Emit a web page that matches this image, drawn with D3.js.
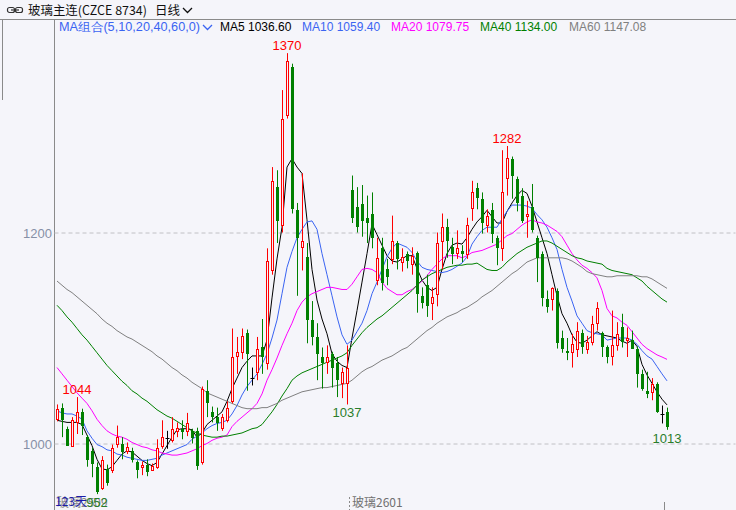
<!DOCTYPE html>
<html><head><meta charset="utf-8">
<script src="https://cdn.jsdelivr.net/npm/d3@7"></script>
<style>html,body{margin:0;padding:0;background:#f5f5fa;}svg{display:block}</style>
</head><body><svg id="c" width="736" height="510"></svg>
<script>
// ---------- data ----------
const opens = [1023,1034,1014,998,1020,1030,1006,993,978,958,
976,975,1000,1000,993,993,982,978,980,975,
978,998,1005,1003,1012,1014,1012,1012,1012,982,
1050,1030,1025,1015,1022,1040,1083,1087,1105,1062,
1068,1091,1076,1164,1243,1207,1311,1357,1221,1186,
1177,1117,1101,1082,1077,1085,1076,1057,1057,1240,
1224,1227,1214,1218,1155,1185,1165,1175,1190,1172,
1180,1170,1181,1140,1150,1133,1142,1192,1205,1186,
1181,1182,1180,1223,1242,1232,1207,1221,1195,1185,
1252,1270,1251,1235,1216,1224,1195,1180,1137,1137,
1145,1100,1088,1087,1090,1105,1090,1096,1114,1105,
1091,1083,1093,1110,1098,1098,1090,1066,1050,1049,
1056,1028,1030];
const highs = [1037,1038,1016,1025,1044,1033,1008,996,982,988,
980,999,1017,1006,1001,996,984,983,985,981,
1004,1022,1012,1025,1020,1022,1029,1014,1015,1054,
1060,1035,1034,1028,1040,1109,1101,1109,1108,1072,
1101,1118,1185,1262,1259,1335,1370,1360,1228,1256,
1190,1135,1114,1091,1093,1087,1082,1072,1093,1254,
1243,1245,1235,1238,1195,1195,1175,1216,1192,1185,
1182,1186,1182,1148,1160,1148,1200,1218,1213,1195,
1202,1188,1214,1249,1247,1238,1222,1228,1197,1278,
1282,1272,1253,1242,1230,1246,1197,1182,1145,1148,
1147,1107,1100,1104,1115,1108,1102,1121,1134,1106,
1093,1126,1115,1123,1110,1107,1092,1070,1068,1062,
1058,1036,1034];
const lows = [1021,1006,998,997,1009,1008,978,968,952,956,
960,972,996,985,990,982,967,970,969,974,
976,995,995,1001,1006,1004,1007,1000,975,980,
1025,1020,1012,1012,1020,1038,1066,1080,1050,1055,
1060,1066,1070,1160,1190,1200,1308,1218,1140,1164,
1095,1093,1060,1052,1066,1053,1044,1043,1037,1209,
1200,1196,1190,1185,1150,1145,1150,1170,1165,1163,
1166,1160,1124,1128,1120,1117,1130,1165,1176,1170,
1175,1172,1175,1211,1222,1199,1200,1190,1169,1173,
1235,1232,1220,1209,1195,1200,1153,1130,1124,1126,
1090,1086,1079,1072,1082,1085,1085,1093,1107,1082,
1076,1074,1088,1091,1082,1090,1053,1050,1043,1041,
1029,1019,1013];
const closes = [1033,1022,998,1022,1030,1017,984,981,954,984,
963,996,1006,992,997,984,975,980,973,979,
996,1006,1005,1014,1015,1011,1019,1005,979,1052,
1038,1025,1019,1025,1034,1082,1087,1102,1085,1062,
1090,1082,1173,1249,1211,1308,1363,1222,1195,1192,
1117,1101,1085,1076,1082,1072,1060,1068,1072,1214,
1205,1211,1209,1195,1176,1152,1158,1192,1175,1177,
1173,1178,1142,1133,1130,1139,1190,1205,1192,1180,
1185,1180,1207,1238,1233,1209,1216,1199,1185,1238,
1271,1254,1228,1211,1218,1202,1176,1138,1129,1147,
1095,1090,1086,1094,1107,1091,1096,1113,1128,1091,
1082,1093,1104,1096,1100,1090,1066,1052,1047,1056,
1030,1028,1016];

const ma5 = [1022,1021,1020,1020,1020,1018,1008,998,985,976,
975,978,984,990,993,992,988,984,981,979,
982,990,998,1006,1013,1014,1014,1013,1006,1010,
1018,1022,1026,1030,1040,1052,1062,1072,1078,1083,
1083,1083,1098,1138,1175,1205,1262,1270,1262,1256,
1212,1165,1136,1118,1104,1085,1078,1074,1072,1100,
1126,1153,1180,1208,1198,1188,1178,1173,1172,1175,
1178,1178,1166,1155,1148,1145,1148,1165,1180,1188,
1190,1189,1195,1203,1210,1215,1221,1215,1209,1209,
1220,1228,1235,1240,1237,1225,1210,1195,1180,1160,
1140,1123,1114,1103,1096,1095,1098,1102,1106,1103,
1102,1101,1100,1097,1095,1098,1092,1075,1065,1057,
1049,1042,1036.6];
const ma10 = [1031,1029,1028,1028,1026,1023,1012,1005,999,997,
994,993,990,989,987,986,985,984,984,985,
986,989,991,993,995,997,999,1004,1007,1010,
1014,1017,1019,1020,1022,1028,1036,1046,1054,1060,
1066,1075,1085,1100,1117,1142,1167,1182,1195,1203,
1210,1211,1203,1180,1160,1140,1120,1103,1094,1098,
1106,1114,1126,1142,1153,1165,1177,1185,1190,1188,
1186,1181,1173,1167,1165,1164,1163,1162,1163,1165,
1168,1171,1177,1189,1196,1202,1205,1205,1205,1213,
1220,1226,1226,1226,1225,1223,1217,1212,1205,1195,
1184,1165,1148,1135,1121,1114,1107,1105,1104,1103,
1098,1099,1100,1100,1100,1098,1094,1088,1083,1080,
1073,1066,1059.4];
const ma20 = [1072,1066,1060,1054,1048,1043,1038,1031,1023,1017,
1012,1009,1007,1006,1004,1001,999,997,996,994,
993,991,990,989,989,990,991,993,995,998,
1000,1003,1005,1006,1008,1016,1021,1025,1029,1033,
1038,1047,1060,1070,1081,1093,1104,1114,1126,1134,
1139,1142,1144,1146,1148,1148,1147,1146,1146,1151,
1158,1165,1166,1165,1162,1153,1147,1144,1141,1141,
1144,1146,1150,1154,1159,1165,1170,1175,1178,1178,
1178,1176,1178,1181,1182,1183,1185,1187,1189,1193,
1197,1199,1203,1207,1210,1212,1210,1209,1207,1204,
1201,1196,1188,1180,1174,1169,1166,1162,1157,1145,
1128,1121,1119,1115,1112,1106,1100,1094,1090,1087,
1084,1082,1079.75];
const ma40 = [1131,1126,1120,1115,1109,1103,1098,1092,1086,1080,
1074,1069,1064,1059,1055,1050,1047,1043,1040,1036,
1032,1029,1026,1024,1021,1018,1015,1012,1010,1008,
1007,1006,1006,1007,1007,1008,1009,1010,1012,1014,
1015,1018,1024,1030,1037,1045,1052,1060,1064,1067,
1069,1071,1073,1075,1077,1079,1081,1083,1086,1093,
1099,1105,1110,1114,1118,1121,1125,1129,1133,1137,
1141,1145,1150,1155,1158,1161,1163,1165,1167,1168,
1169,1169,1170,1170,1171,1168,1165,1164,1164,1167,
1172,1176,1180,1183,1186,1188,1190,1192,1192,1190,
1187,1184,1181,1178,1176,1175,1173,1172,1171,1170,
1166,1164,1163,1162,1161,1160,1157,1154,1149,1145,
1141,1137,1134];
const ma60 = [1154,1150,1146,1143,1139,1135,1131,1127,1123,1118,
1114,1111,1107,1104,1101,1099,1096,1093,1090,1087,
1083,1080,1076,1072,1069,1065,1062,1058,1055,1052,
1048,1046,1044,1042,1040,1038,1036,1034,1033,1033,
1033,1034,1034,1036,1038,1041,1043,1045,1047,1049,
1050,1051,1052,1053,1053,1054,1055,1056,1057,1060,
1064,1068,1071,1073,1076,1079,1081,1083,1086,1089,
1091,1095,1099,1103,1107,1110,1114,1117,1120,1122,
1124,1127,1129,1132,1135,1139,1142,1145,1149,1153,
1157,1161,1164,1168,1172,1174,1176,1176,1176,1176,
1176,1176,1175,1173,1170,1167,1163,1161,1160,1159,
1158,1158,1159,1159,1159,1159,1159,1158,1158,1156,
1153,1150,1147.08];

const yTickValues = [1000, 1200];
const maNames  = ["MA5", "MA10", "MA20", "MA40", "MA60"];
const maLast   = ["1036.60", "1059.40", "1079.75", "1134.00", "1147.08"];
const maGroupLabel = "MA组合(5,10,20,40,60,0)";
const titleText = "玻璃主连(CZCE 8734)";
const periodText = "日线";
const highMarks = [4, 46, 90];
const lowMarks  = [8, 58, 122];
const contractLabels = ["玻璃2509", "玻璃2601"];
const contractIdx = [0, 58];
const dayCountLabel = "123天";

// ---------- style ----------
const W = 736, H = 510;
const maColors = ["#000000", "#3a64f2", "#ff00ff", "#008000", "#808080"];
const maSeries = [ma5, ma10, ma20, ma40, ma60];
const UP = "#ff0000", DOWN = "#008000", FLAT = "#000000";
const FONT = "'Liberation Sans', Arial, sans-serif";
const CJK = "'Noto Sans CJK SC', sans-serif";

const svg = d3.select("#c");
svg.append("rect").attr("width", W).attr("height", H).attr("fill", "#f5f5fa");

const n = closes.length;
const x = d3.scaleLinear().domain([0, n - 1]).range([57, 667]);
const y = d3.scaleLinear().domain([1000, 1200]).range([443.5, 232.5]);
const px = i => Math.round(x(i));

// frame lines
svg.append("line").attr("x1", 0).attr("x2", W).attr("y1", 19.5).attr("y2", 19.5).attr("stroke", "#8a8a8a");
svg.append("line").attr("x1", 2.5).attr("x2", 2.5).attr("y1", 19.5).attr("y2", 100).attr("stroke", "#8a8a8a");
svg.append("line").attr("x1", 54.5).attr("x2", 54.5).attr("y1", 19.5).attr("y2", H).attr("stroke", "#8a8a8a");

// grid + y axis labels
const grid = svg.append("g").attr("transform", "translate(54.5,0)")
  .call(d3.axisRight(y).tickValues(yTickValues).tickSize(W - 55).tickFormat(""));
grid.select(".domain").remove();
grid.selectAll(".tick line").attr("stroke", "#c0c0c4").attr("stroke-dasharray", "4,3");

const yAxis = svg.append("g").attr("transform", "translate(52,0)")
  .call(d3.axisLeft(y).tickValues(yTickValues).tickSize(0).tickPadding(0).tickFormat(d3.format("d")));
yAxis.select(".domain").remove();
yAxis.selectAll("text").attr("font-family", FONT).attr("font-size", 13).attr("fill", "#8690a6").attr("dy", "0.36em");

// MA lines
const line = d3.line().x((d, i) => x(i)).y(d => y(d));
maSeries.forEach((s, k) => {
  svg.append("path").datum(s).attr("d", line).attr("fill", "none")
    .attr("stroke", maColors[k]).attr("stroke-width", 1);
});

// candles
const cg = svg.append("g");
for (let i = 0; i < n; i++) {
  const o = opens[i], c = closes[i], h = highs[i], l = lows[i];
  const cx = px(i) + 0.5;
  const yt = Math.round(y(Math.max(o, c))), yb = Math.round(y(Math.min(o, c)));
  const yh = y(h), yl = y(l);
  if (c > o) {
    cg.append("line").attr("x1", cx).attr("x2", cx).attr("y1", yh).attr("y2", yt).attr("stroke", UP);
    cg.append("line").attr("x1", cx).attr("x2", cx).attr("y1", yb).attr("y2", yl).attr("stroke", UP);
    cg.append("rect").attr("x", cx - 1).attr("y", yt + 0.5).attr("width", 2).attr("height", Math.max(1, yb - yt))
      .attr("fill", "#f5f5fa").attr("stroke", UP);
  } else if (c < o) {
    cg.append("line").attr("x1", cx).attr("x2", cx).attr("y1", yh).attr("y2", yl).attr("stroke", DOWN);
    cg.append("rect").attr("x", cx - 1.5).attr("y", yt).attr("width", 3).attr("height", Math.max(1, yb - yt))
      .attr("fill", DOWN);
  } else {
    cg.append("line").attr("x1", cx).attr("x2", cx).attr("y1", yh).attr("y2", yl).attr("stroke", FLAT);
    cg.append("line").attr("x1", cx - 2).attr("x2", cx + 2).attr("y1", yt + 0.5).attr("y2", yt + 0.5).attr("stroke", FLAT);
  }
}

// high / low marks
highMarks.forEach(i => {
  svg.append("text").attr("x", x(i)).attr("y", y(highs[i]) - 3).attr("text-anchor", "middle")
    .attr("font-family", FONT).attr("font-size", 13).attr("fill", "#ff0000").text(highs[i]);
});

// bottom labels (reference shows these stacked at the lower-left corner)
svg.append("text").attr("x", x(contractIdx[0])).attr("y", 507).attr("font-family", CJK).attr("font-size", 12)
  .attr("fill", "#8a8a8a").text(contractLabels[0]);
svg.append("text").attr("x", 55).attr("y", 506).attr("font-family", CJK).attr("font-size", 12)
  .attr("fill", "#1c1ca8").text(dayCountLabel);
svg.append("line").attr("x1", px(contractIdx[1]) + 2.5).attr("x2", px(contractIdx[1]) + 2.5).attr("y1", 497).attr("y2", H)
  .attr("stroke", "#8a8a8a").attr("stroke-dasharray", "2,2");
svg.append("text").attr("x", px(contractIdx[1]) + 5).attr("y", 507).attr("font-family", CJK).attr("font-size", 12)
  .attr("fill", "#707070").text(contractLabels[1]);
svg.append("line").attr("x1", px(n - 1) - 2.5).attr("x2", px(n - 1) - 2.5).attr("y1", 502).attr("y2", H).attr("stroke", "#8a8a8a");

lowMarks.forEach(i => {
  svg.append("text").attr("x", x(i)).attr("y", Math.min(y(lows[i]) + 13, 507)).attr("text-anchor", "middle")
    .attr("font-family", FONT).attr("font-size", 13).attr("fill", "#2a7d2a").text(lows[i]);
});

// title bar
const ic = svg.append("g").attr("fill", "none").attr("stroke", "#333").attr("stroke-width", 1.2);
ic.append("rect").attr("x", 7.5).attr("y", 7.5).attr("width", 7).attr("height", 5).attr("rx", 2);
ic.append("rect").attr("x", 15.5).attr("y", 7.5).attr("width", 7).attr("height", 5).attr("rx", 2);
ic.append("line").attr("x1", 11).attr("x2", 19).attr("y1", 10).attr("y2", 10);
svg.append("text").attr("x", 28).attr("y", 15).attr("font-family", CJK).attr("font-size", 12.5)
  .attr("fill", "#111").attr("textLength", 119).attr("lengthAdjust", "spacingAndGlyphs").text(titleText);
svg.append("text").attr("x", 155).attr("y", 15).attr("font-family", CJK).attr("font-size", 12.5)
  .attr("fill", "#111").text(periodText);
svg.append("path").attr("d", "M183,8 L187.5,12.5 L192,8").attr("fill", "none").attr("stroke", "#111").attr("stroke-width", 1.3);

// MA legend
svg.append("text").attr("x", 59).attr("y", 31).attr("font-family", FONT).attr("font-size", 12)
  .attr("fill", "#3a64f2").attr("textLength", 141).attr("lengthAdjust", "spacingAndGlyphs").text(maGroupLabel);
svg.append("path").attr("d", "M203,25 L207.5,29.5 L212,25").attr("fill", "none").attr("stroke", "#3a64f2").attr("stroke-width", 1.3);
const legX = [220, 302, 391, 480, 569];
maNames.forEach((nm, k) => {
  svg.append("text").attr("x", legX[k]).attr("y", 31).attr("font-family", FONT).attr("font-size", 12)
    .attr("fill", maColors[k]).text(nm + " " + maLast[k]);
});
</script></body></html>
